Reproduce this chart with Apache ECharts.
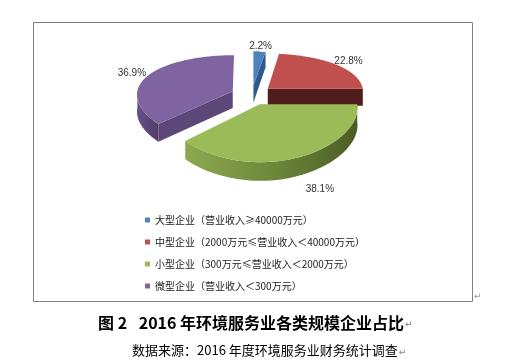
<!DOCTYPE html>
<html>
<head>
<meta charset="utf-8">
<script src="https://cdn.jsdelivr.net/npm/echarts@6/dist/echarts.min.js"></script>
<style>
  html, body { margin: 0; padding: 0; background: #fff; }
  #chart { width: 506px; height: 364px; }
</style>
</head>
<body>
<div id="chart"></div>
<script>
// ---- data ----
const categories = [
  '大型企业（营业收入≥40000万元）',
  '中型企业（2000万元≤营业收入＜40000万元）',
  '小型企业（300万元≤营业收入＜2000万元）',
  '微型企业（营业收入＜300万元）'
];
const values = [2.2, 22.8, 38.1, 36.9];
const valueLabels = ['2.2%', '22.8%', '38.1%', '36.9%'];
const titleText = '图 2\u2002 2016 年环境服务业各类规模企业占比';
const sourceText = '数据来源：2016 年度环境服务业财务统计调查';

// ---- style ----
const topColors = ['#4F81BD', '#C0504D', '#9BBB59', '#8064A2'];
const faceColors = ['#2E5A8E', '#4F1E1C', '#4F6228', '#5C4878'];
const wallStops = [
  [['#3A6BA3', 0], ['#2A4F7E', 1]],
  [['#8E3432', 0], ['#5A2120', 1]],
  [['#8CA951', 0], ['#718C3D', 0.45], ['#4A5D24', 1]],
  [['#67508A', 0], ['#4E3D68', 1]]
];
const drawZ = [2, 3, 5, 4];

// ---- projection ----
const CX = 252, CY = 95, R = 96, T = 43.7, H = 17, PX = 0.07, PY = 0.18, EXP = 0.22, LR = 1.2;
function proj(x, z, down) {
  const kx = 1 / (1 - PX * z), ky = 1 / (1 - PY * z);
  return [CX + x * R * kx, CY + z * T * ky + down * kx];
}

function makeRender(i) {
  return function (params, api) {
    const total = values.reduce((a, b) => a + b, 0);
    let before = 0;
    for (let j = 0; j < i; j++) before += values[j];
    const v = api.value(0);
    const TAU = Math.PI * 2;
    const a0 = before / total * TAU, a1 = (before + v) / total * TAU, am = (a0 + a1) / 2;
    const ox = EXP * Math.sin(am), oz = -EXP * Math.cos(am);
    const rim = (t, d) => proj(ox + Math.sin(t), oz - Math.cos(t), d);
    const apex = d => proj(ox, oz, d);
    const children = [];
    // radial faces
    const faceAt = (t, nz) => {
      if (nz > 1e-6) {
        children.push({
          type: 'polygon',
          shape: { points: [apex(0), rim(t, 0), rim(t, H), apex(H)] },
          style: { fill: faceColors[i] }
        });
      }
    };
    faceAt(a0, -Math.sin(a0));
    faceAt(a1, Math.sin(a1));
    // outer wall (front-facing part)
    const w0 = Math.max(a0, Math.PI / 2), w1 = Math.min(a1, Math.PI * 1.5);
    if (w1 > w0) {
      const n = 60, tops = [], bots = [];
      for (let k = 0; k <= n; k++) {
        const t = w0 + (w1 - w0) * k / n;
        tops.push(rim(t, 0));
        bots.push(rim(t, H));
      }
      const stops = wallStops[i].map(s => ({ offset: s[1], color: s[0] }));
      children.push({
        type: 'polygon',
        shape: { points: tops.concat(bots.reverse()) },
        style: { fill: new echarts.graphic.LinearGradient(0, 0, 1, 0, stops) }
      });
    }
    // top surface
    const pts = [apex(0)];
    const n2 = 80;
    for (let k = 0; k <= n2; k++) pts.push(rim(a0 + (a1 - a0) * k / n2, 0));
    children.push({ type: 'polygon', shape: { points: pts }, style: { fill: topColors[i] } });
    // label
    const lp = proj(ox + LR * Math.sin(am), oz - LR * Math.cos(am), H * Math.max(0, -Math.cos(am)));
    const shiftX = 14 * Math.max(0, -Math.cos(am)) * Math.sign(Math.sin(am));
    children.push({
      type: 'text',
      style: {
        text: valueLabels[i], x: lp[0] + shiftX, y: lp[1] + 1, fill: '#333',
        font: '10px "Liberation Sans", Arial, sans-serif',
        align: 'center', verticalAlign: 'middle'
      }
    });
    return { type: 'group', children: children };
  };
}

const chart = echarts.init(document.getElementById('chart'), null, { renderer: 'canvas' });
const series = categories.map((name, i) => ({
  type: 'custom',
  name: name,
  coordinateSystem: 'none',
  z: drawZ[i],
  itemStyle: { color: topColors[i] },
  data: [[values[i]]],
  renderItem: makeRender(i)
}));

chart.setOption({
  animation: false,
  backgroundColor: '#fff',
  title: [
    {
      text: '{a|' + titleText + '}{m|↵}',
      left: 93, top: 310,
      textStyle: {
        rich: {
          a: { fontFamily: '"Noto Sans CJK SC", sans-serif', fontWeight: 'bold', fontSize: 16, color: '#000' },
          m: { fontFamily: '"DejaVu Sans", sans-serif', fontSize: 9, color: '#999', padding: [4, 0, 0, 1] }
        }
      }
    },
    {
      text: '{a|' + sourceText + '}{m|↵}',
      left: 127, top: 339,
      textStyle: {
        rich: {
          a: { fontFamily: '"Noto Sans CJK SC", sans-serif', fontWeight: 'normal', fontSize: 13, color: '#000' },
          m: { fontFamily: '"DejaVu Sans", sans-serif', fontSize: 9, color: '#999', padding: [4, 0, 0, 1] }
        }
      }
    }
  ],
  legend: {
    data: categories,
    orient: 'vertical',
    left: 140, top: 209,
    icon: 'rect',
    itemWidth: 5, itemHeight: 5,
    itemGap: 10,
    selectedMode: false,
    textStyle: { fontFamily: '"Noto Sans CJK SC", sans-serif', fontSize: 10, lineHeight: 12, color: '#222' }
  },
  graphic: [
    {
      type: 'rect', silent: true, z: -1,
      shape: { x: 33.5, y: 22.5, width: 439, height: 279 },
      style: { fill: 'none', stroke: '#808080', lineWidth: 1 }
    },
    {
      type: 'text', silent: true,
      style: { text: '↵', x: 474, y: 292, fill: '#999', font: '9px "DejaVu Sans", sans-serif' }
    }
  ],
  series: series
});
</script>
</body>
</html>
